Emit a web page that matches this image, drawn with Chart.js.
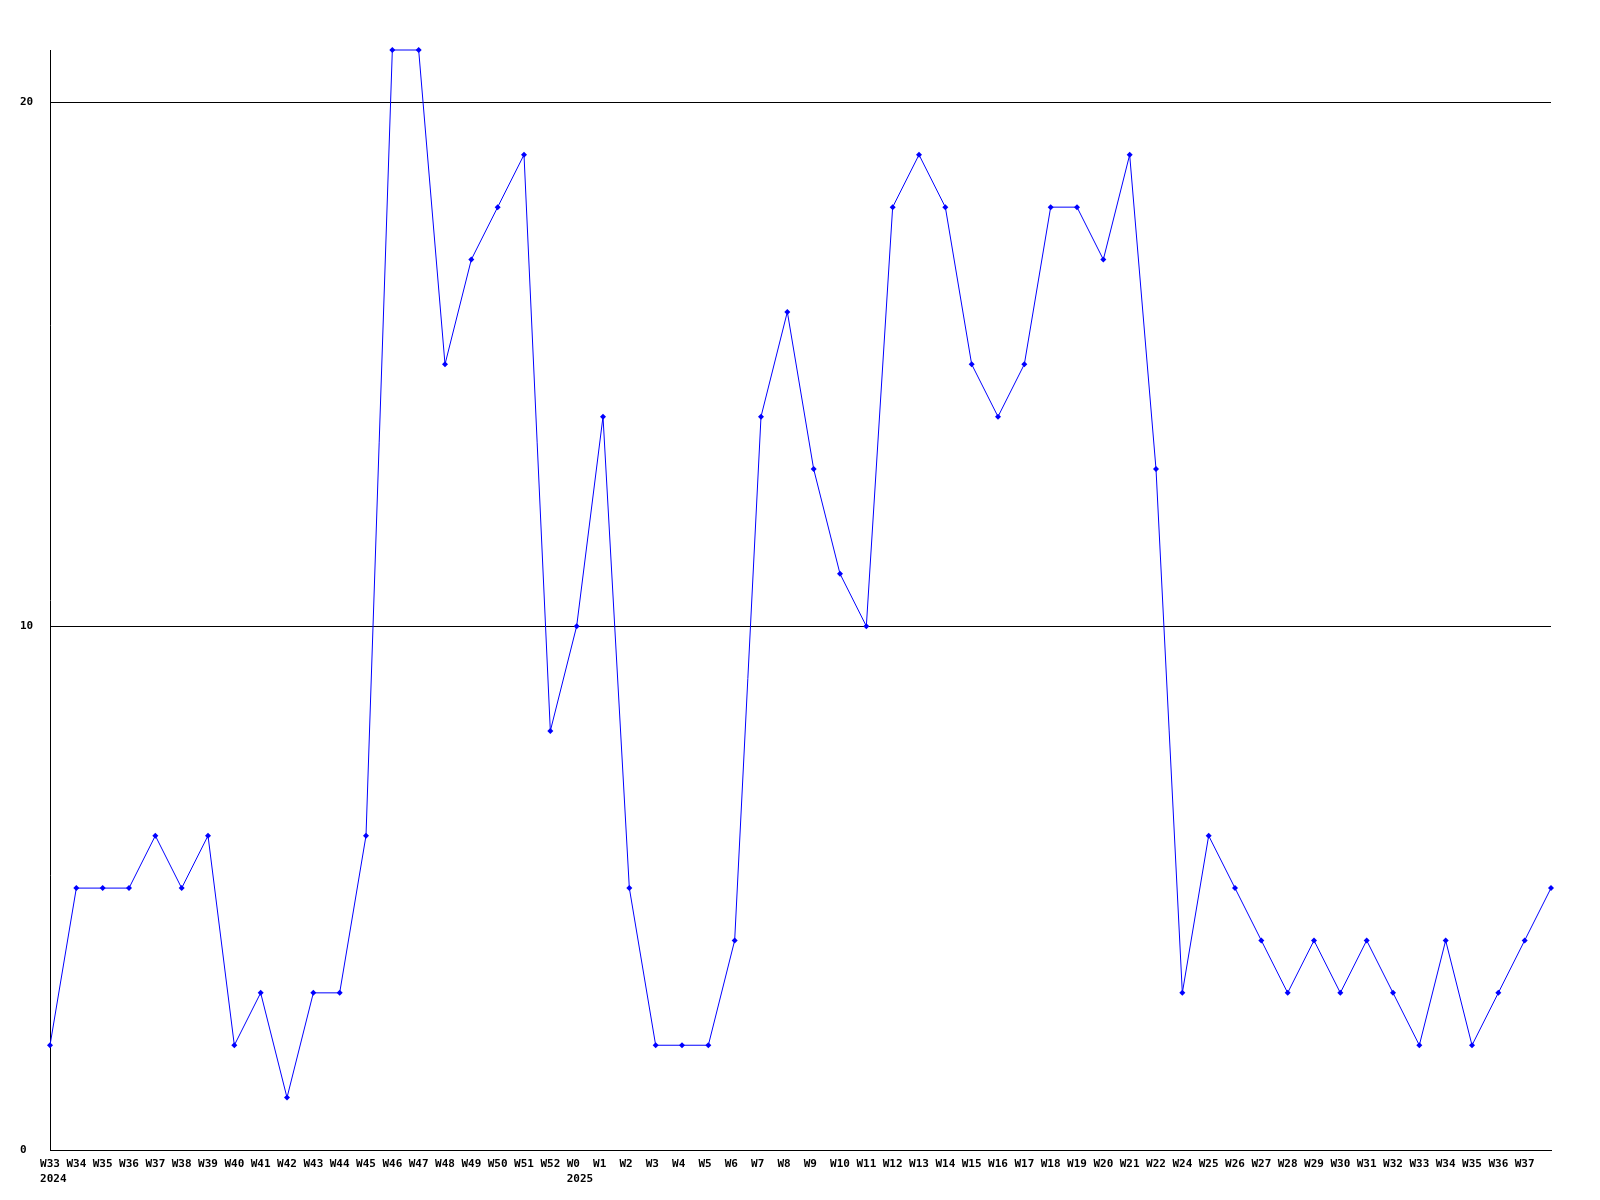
<!DOCTYPE html>
<html>
<head>
<meta charset="utf-8">
<script src="https://cdn.jsdelivr.net/npm/chart.js@4"></script>
<style>
  body { margin: 0; background: #ffffff; }
  canvas { display: block; }
</style>
</head>
<body>
<canvas id="chart" width="1600" height="1200"></canvas>
<script>
// week labels (last point has no visible label in the original)
const weeks = ['W33', 'W34', 'W35', 'W36', 'W37', 'W38', 'W39', 'W40', 'W41', 'W42',
    'W43', 'W44', 'W45', 'W46', 'W47', 'W48', 'W49', 'W50', 'W51', 'W52',
    'W0', 'W1', 'W2', 'W3', 'W4', 'W5', 'W6', 'W7', 'W8', 'W9',
    'W10', 'W11', 'W12', 'W13', 'W14', 'W15', 'W16', 'W17', 'W18', 'W19',
    'W20', 'W21', 'W22', 'W24', 'W25', 'W26', 'W27', 'W28', 'W29', 'W30',
    'W31', 'W32', 'W33', 'W34', 'W35', 'W36', 'W37', ''];
// year shown under the first week of each year
const years = { 0: '2024', 20: '2025' };
const counts = [2, 5, 5, 5, 6, 5, 6, 2, 3, 1,
    3, 3, 6, 21, 21, 15, 17, 18, 19, 8,
    10, 14, 5, 2, 2, 2, 4, 14, 16, 13,
    11, 10, 18, 19, 18, 15, 14, 15, 18, 18,
    17, 19, 13, 3, 6, 5, 4, 3, 4, 3,
    4, 3, 2, 4, 2, 3, 4, 5];
const yTicks = [0, 10, 20];

const font = { family: 'DejaVu Sans Mono', size: 11, weight: 'bold', lineHeight: 1.4 };

// pad to 3 chars so every label starts at the same offset from its point
const labels = weeks.map(function(w, i) {
    const first = w.padEnd(3, ' ');
    return years[i] ? [first, ' ' + years[i]] : first;
});

new Chart(document.getElementById('chart').getContext('2d'), {
    type: 'line',
    data: {
        labels: labels,
        datasets: [{
            data: counts,
            borderColor: '#0000ff',
            backgroundColor: '#0000ff',
            borderWidth: 1,
            pointStyle: 'rectRot',
            pointRadius: 3,
            pointBorderWidth: 0,
            tension: 0,
            fill: false,
            clip: false
        }]
    },
    options: {
        responsive: false,
        animation: false,
        layout: { padding: { left: 20, right: 49, top: 50, bottom: 0 } },
        plugins: { legend: { display: false }, tooltip: { enabled: false } },
        scales: {
            x: {
                grid: { display: false, drawTicks: false },
                border: { display: true, color: '#000000', width: 1 },
                ticks: {
                    color: '#000000',
                    font: font,
                    autoSkip: false,
                    maxRotation: 0,
                    padding: 6
                },
                afterFit: function(scale) { scale.height = 50; }
            },
            y: {
                min: 0,
                max: 21,
                grid: { color: '#000000', lineWidth: 1, drawTicks: false },
                border: { display: true, color: '#000000', width: 1 },
                afterBuildTicks: function(scale) {
                    scale.ticks = yTicks.map(function(v) { return { value: v }; });
                },
                ticks: {
                    color: '#000000',
                    font: font,
                    crossAlign: 'far',
                    padding: 0
                },
                afterFit: function(scale) { scale.width = 30; }
            }
        }
    }
});
</script>
</body>
</html>
